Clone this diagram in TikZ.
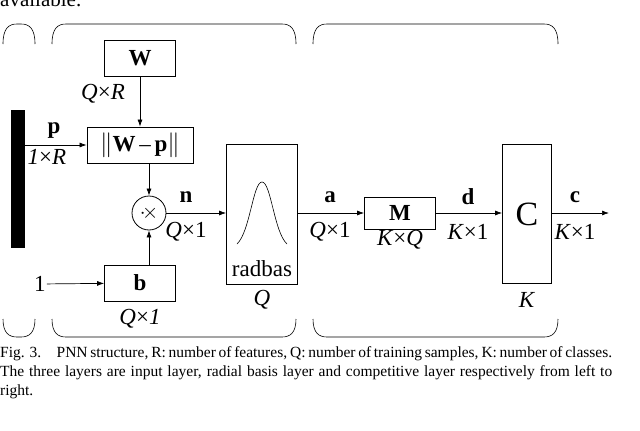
\documentclass[tikz,border=0pt]{standalone}
\usepackage{fontspec}
\setmainfont{Liberation Serif}
\usetikzlibrary{arrows.meta}
\begin{document}
\begin{tikzpicture}[x=1pt,y=-1pt,
  box/.style={draw,line width=0.8pt,inner sep=0},
  lab/.style={font=\fontsize{23}{25}\selectfont,inner sep=1pt},
  arr/.style={-{Latex[length=7pt,width=5pt]},line width=0.7pt},
  br/.style={line width=0.6pt}]
\useasboundingbox (0,0) rectangle (640,431);
\node[anchor=base west,font=\fontsize{21}{23}\selectfont,inner sep=0] (av) at (0,6) {available.};
% braces
\foreach \a/\b in {3/35,52/296,313/558}{
  \draw[br] (\a,44) .. controls (\a,28) and (\a+6,24) .. (\a+14,24) -- (\b-14,24) .. controls (\b-6,24) and (\b,28) .. (\b,44);
  \draw[br] (\a,319) .. controls (\a,333) and (\a+6,337) .. (\a+14,337) -- (\b-14,337) .. controls (\b-6,337) and (\b,333) .. (\b,319);
}
\fill (11,110) rectangle (25,248);
\coordinate (pin) at (25,145);
\node[box,minimum width=71pt,minimum height=36pt,lab] (W) at (140,58) {\textbf{W}};
\node[box,minimum width=106pt,minimum height=36pt,lab] (D) at (140,145) {$\|$\textbf{W}\,--\,\textbf{p}$\|$};
\node[draw,circle,line width=0.8pt,minimum size=34pt,inner sep=0,font=\fontsize{21}{23}\selectfont] (X) at (149,213) {$\cdot\!\times$};
\node[box,minimum width=71pt,minimum height=36pt,lab] (B) at (140,283) {\textbf{b}};
\node[box,minimum width=71pt,minimum height=140pt] (R) at (262,214) {};
\node[lab,anchor=base] (rl) at (262,276) {radbas};
\node[box,minimum width=71pt,minimum height=32pt,lab] (M) at (400,213) {\textbf{M}};
\node[box,minimum width=49pt,minimum height=139pt,font=\fontsize{34}{36}\selectfont] (C) at (527,214) {C};
\coordinate (out) at (609,213);
\node[lab] (one) at (40,284) {1};
\draw[line width=0.6pt] (237,244) .. controls (250,232) and (253,182) .. (262,182) .. controls (271,182) and (274,232) .. (287,244);
\draw[arr] (pin) -- (D.west |- pin);
\draw[arr] (W) -- (D);
\draw[arr] (D.south -| X) -- (X);
\draw[arr] (B.north -| X) -- (X);
\draw[arr] (one) -- (B);
\draw[arr] (X) -- (R.west |- X);
\draw[arr] (R.east |- M) -- (M);
\draw[arr] (M) -- (C.west |- M);
\draw[arr] (C.east |- out) -- (out);
\node[lab] (lp) at (54,131) {\textbf{p}};
\node[lab] (lp2) at (47,157) {\textit{1}×\textit{R}};
\node[lab] (lw) at (103,94) {\textit{Q}×\textit{R}};
\node[lab] (ln) at (186,197) {\textbf{n}};
\node[lab] (ln2) at (186,232) {\textit{Q}×1};
\node[lab] (la) at (330,197) {\textbf{a}};
\node[lab] (la2) at (330,232) {\textit{Q}×1};
\node[lab] (ld) at (468,197) {\textbf{d}};
\node[lab] (ld2) at (468,232) {\textit{K}×1};
\node[lab] (lc) at (575,197) {\textbf{c}};
\node[lab] (lc2) at (575,232) {\textit{K}×1};
\node[lab] (lm) at (400,240) {\textit{K}×\textit{Q}};
\node[lab] (lq) at (262,300) {\textit{Q}};
\node[lab] (lk) at (527,300) {\textit{K}};
\node[lab] (lb) at (140,319) {\textit{Q}×\textit{1}};
\node[anchor=north west,inner sep=0,text width=612pt,align=justify,font=\fontsize{15.5}{19}\selectfont] (cap) at (0,346)
{Fig. 3.\quad PNN structure, R: number of features, Q: number of training samples, K: number of classes. The three layers are input layer, radial basis layer and competitive layer respectively from left to right.};
\end{tikzpicture}
\end{document}
